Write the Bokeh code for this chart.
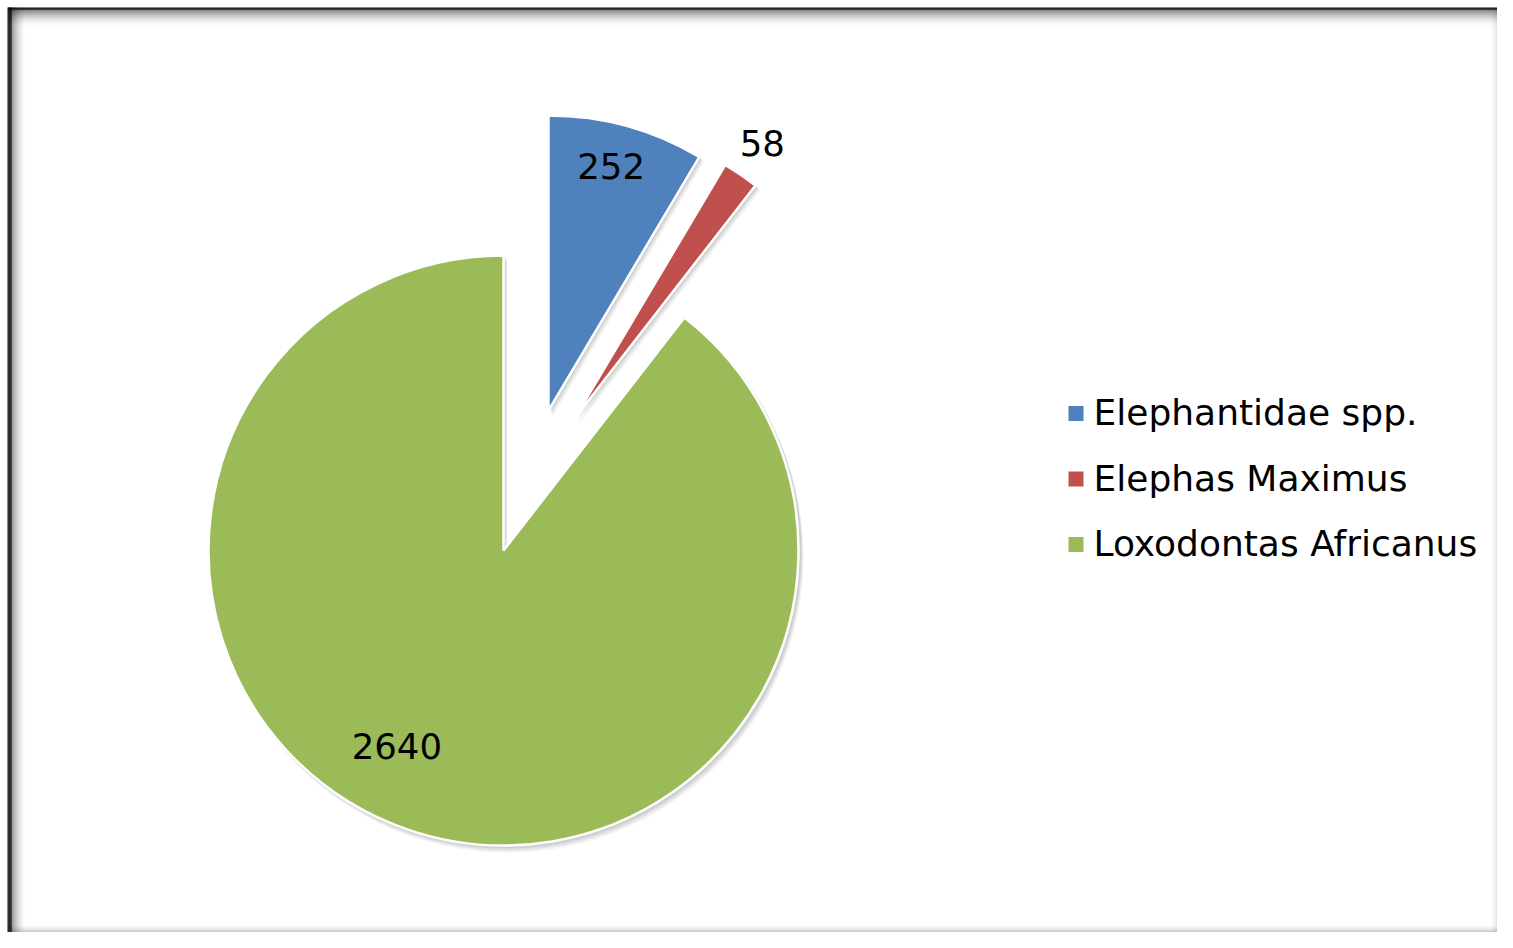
import math
from bokeh.plotting import figure
from bokeh.models import Range1d, ColumnDataSource
from bokeh.core.properties import value
from bokeh.embed import file_html
from bokeh.resources import INLINE

# ---- data ----
categories = ["Elephantidae spp.", "Elephas Maximus", "Loxodontas Africanus"]
counts = [252, 58, 2640]
labels = ["252", "58", "2640"]
colors = ["#4F81BD", "#C0504D", "#9BBB59"]

# ---- style / layout ----
W, H = 1497, 932
CX, CY = 503, 382          # pie centre (pixels, y up)
R = 295                     # pie radius (pixels)
explode_dx = [45, 71, 0]    # exploded slice offsets (pixels)
explode_dy = [140, 132, 0]
label_r = [0.855, 1.13, 0.755]
label_nudge = [-1.0, 0.0, 9.7]   # degrees
FONT = "DejaVu Sans"

p = figure(width=W, height=H, output_backend="svg", toolbar_location=None,
           x_range=Range1d(0, W), y_range=Range1d(0, H),
           min_border=0, background_fill_color="white", border_fill_color="white")
p.axis.visible = False
p.grid.visible = False
p.outline_line_color = None

# ---- frame (inset shadow look) ----
FT, FL = 8, 8   # frame top / left offsets
steps = 20
for i in range(steps):
    a = (1 - i / steps) ** 2.2
    p.quad(left=FL, right=W, top=H - FT - i + 1, bottom=H - FT - i - 0.2, fill_color="black",
           fill_alpha=0.95 if i < 2 else 0.55 * a, line_color=None)
    p.quad(left=FL + i - 1, right=FL + i + 0.2, top=H - FT + 1, bottom=0, fill_color="black",
           fill_alpha=0.95 if i < 4 else 0.6 * a, line_color=None)
for i in range(8):
    a = (1 - i / 8) ** 2
    p.quad(left=W - i - 1, right=W - i, top=H - FT, bottom=0, fill_color="black",
           fill_alpha=0.12 * a, line_color=None)
    p.quad(left=FL, right=W, top=i + 1, bottom=i, fill_color="black",
           fill_alpha=0.22 * a, line_color=None)

# ---- pie geometry ----
total = sum(counts)
starts_cw, ends_cw = [], []
cum = 0.0
for c in counts:
    starts_cw.append(cum / total * 360.0)
    cum += c
    ends_cw.append(cum / total * 360.0)

xs = [CX + dx for dx in explode_dx]
ys = [CY + dy for dy in explode_dy]
start_ang = [math.radians(90 - e) for e in ends_cw]
end_ang = [math.radians(90 - s) for s in starts_cw]

src = ColumnDataSource(dict(x=xs, y=ys, start=start_ang, end=end_ang, color=colors))

# soft shadow
for ox, oy, al in [(4, -6, 0.10), (3, -4, 0.14), (2, -2, 0.18)]:
    p.wedge(x=[x + ox for x in xs], y=[y + oy for y in ys], radius=R + 1,
            start_angle=start_ang, end_angle=end_ang, direction="anticlock",
            fill_color="#7f7f7f", fill_alpha=al, line_color=None)

p.wedge(x="x", y="y", radius=R, start_angle="start", end_angle="end",
        direction="anticlock", fill_color="color", line_color="white",
        line_width=2.5, source=src)

# ---- data labels ----
lx, ly = [], []
for i in range(len(counts)):
    mid = math.radians((starts_cw[i] + ends_cw[i]) / 2 + label_nudge[i])
    rr = label_r[i] * R
    lx.append(xs[i] + rr * math.sin(mid))
    ly.append(ys[i] + rr * math.cos(mid))
p.text(x=lx, y=ly, text=labels, text_font=value(FONT), text_font_size="35.5px",
       text_color="black", text_align="center", text_baseline="middle")

# ---- legend ----
LEG_X, LEG_Y, LEG_DY, SQ = 1075.5, 519, 65.5, 15
for i, cat in enumerate(categories):
    yy = LEG_Y - i * LEG_DY
    p.rect(x=[LEG_X], y=[yy], width=SQ, height=SQ, fill_color=colors[i], line_color=None)
p.text(x=[LEG_X + 17.5] * 3, y=[LEG_Y - i * LEG_DY + 1 for i in range(3)], text=categories,
       text_font=value(FONT), text_font_size="36px", text_color="black",
       text_align="left", text_baseline="middle")

open("out.html", "w").write(file_html(p, INLINE))
